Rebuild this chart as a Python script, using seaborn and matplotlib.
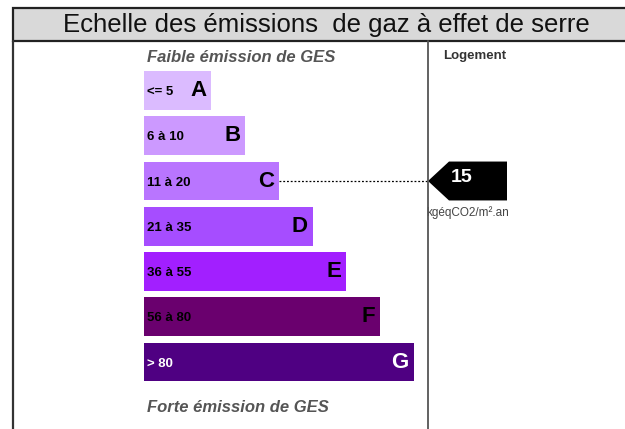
import numpy as np
import matplotlib
matplotlib.use("Agg")
import matplotlib.pyplot as plt
import matplotlib.transforms as mtransforms
from matplotlib.patches import Rectangle, Polygon
import seaborn as sns

# GES classes, their ranges (kgéqCO2/m².an) and bar lengths in scale units
classes = ["A", "B", "C", "D", "E", "F", "G"]
ranges = ["<= 5", "6 à 10", "11 à 20", "21 à 35", "36 à 55", "56 à 80", "> 80"]
upper_bounds = [5, 10, 20, 35, 55, 80]
lengths = [2, 3, 4, 5, 6, 7, 8]
colors = ["#dbbbff", "#cc99ff", "#b975ff", "#a64dff", "#a21fff", "#6a006e", "#4f0082"]
text_colors = ["black"] * 6 + ["white"]
value = 15
unit = "kgéqCO2/m².an"

sns.set_theme(style="white")
plt.rcParams["font.family"] = ["Liberation Sans", "DejaVu Sans"]

W, H = 625, 429
fig = plt.figure(figsize=(W / 100, H / 100), dpi=100)
fig.patch.set_facecolor("white")
px = mtransforms.Affine2D().scale(1 / W, -1 / H).translate(0, 1) + fig.transFigure

# layout in pixels
LEFT, TITLE_TOP, TITLE_BOT = 13, 8, 41
X0, UNIT = 144, 33.7          # bar origin and pixels per length unit
ROW0, PITCH = 90.5, 45.25     # centre of first row and row pitch
DIVIDER = 428

ax = fig.add_axes([LEFT / W, 0, (W - LEFT) / W, (H - TITLE_BOT) / H])
sns.barplot(x=lengths, y=classes, hue=classes, palette=colors, legend=False,
            orient="h", width=0.86, ax=ax, saturation=1, linewidth=0)
ax.set_xlim(-(X0 - LEFT) / UNIT, (W - X0) / UNIT)
ax.set_ylim((H - ROW0) / PITCH, -(ROW0 - TITLE_BOT) / PITCH)
ax.axis("off")

for i, (cls, rng, ln, tc) in enumerate(zip(classes, ranges, lengths, text_colors)):
    ax.annotate(cls, xy=(ln, i), xytext=(-3.5, 0), textcoords="offset points",
                ha="right", va="center", fontsize=16, fontweight="bold", color=tc)
    ax.annotate(rng, xy=(0, i), xytext=(2.5, -1.2), textcoords="offset points",
                ha="left", va="center", fontsize=9.5, fontweight="bold", color=tc)

# title band
fig.patches.append(Rectangle((LEFT, TITLE_TOP), W + 10 - LEFT, TITLE_BOT - TITLE_TOP,
                             transform=px, facecolor="#d9d9d9", edgecolor="#222222",
                             linewidth=1.6, figure=fig))
fig.text(326, 25, "Echelle des émissions  de gaz à effet de serre", transform=px,
         ha="center", va="center", fontsize=18.5, color="#111111")

# frame lines
fig.lines.append(plt.Line2D([LEFT, LEFT], [TITLE_BOT, H], transform=px,
                            color="#333333", linewidth=1.6))
fig.lines.append(plt.Line2D([DIVIDER, DIVIDER], [TITLE_BOT, H], transform=px,
                            color="#555555", linewidth=1.3))

fig.text(147, 57, "Faible émission de GES", transform=px, ha="left", va="center",
         fontsize=12, fontweight="bold", fontstyle="italic", color="#555555")
fig.text(147, 408, "Forte émission de GES", transform=px, ha="left", va="center",
         fontsize=12, fontweight="bold", fontstyle="italic", color="#555555")
fig.text(443, 56, "Logement", transform=px, ha="left", va="center",
         fontsize=9.5, fontweight="bold", color="#333333")

# value marker on the row of its class
row = int(np.searchsorted(upper_bounds, value, side="left"))
div_x = (DIVIDER - X0) / UNIT
body_l, body_r = (449 - X0) / UNIT, (507 - X0) / UNIT
half = 0.43
ax.add_patch(Polygon([[div_x, row], [body_l, row - half], [body_r, row - half],
                      [body_r, row + half], [body_l, row + half]], closed=True,
                     facecolor="black", edgecolor="black", linewidth=0))
ax.text((462 - X0) / UNIT, row - 0.08, str(value), ha="center", va="center",
        fontsize=14, fontweight="bold", color="white")
ax.plot([lengths[row], div_x], [row, row], color="black", linewidth=0.9,
        linestyle=(0, (1.5, 1.5)))
ax.annotate(unit, xy=(div_x, row + half), xytext=(-1.2, -9), textcoords="offset points",
            ha="left", va="center", fontsize=8.5, color="#444444")

fig.savefig("out.png", dpi=100)
